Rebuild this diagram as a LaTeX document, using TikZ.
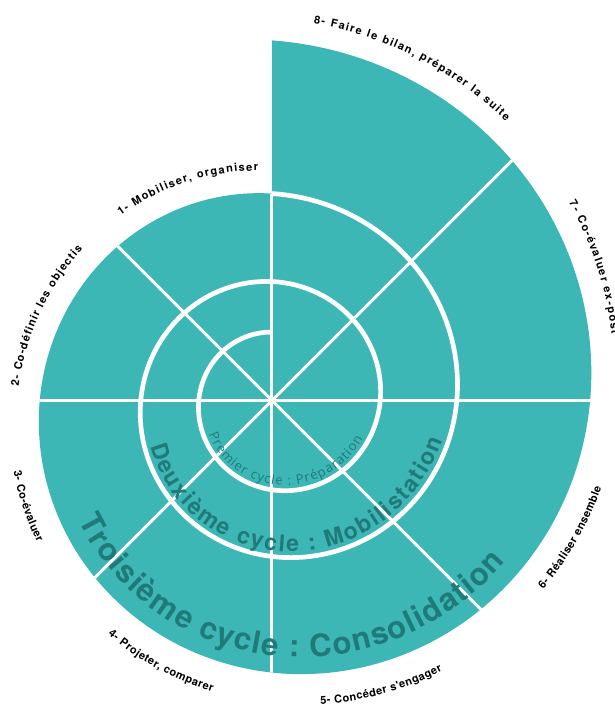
\documentclass[tikz,border=0pt]{standalone}
\usepackage{fontspec}
\usetikzlibrary{decorations.text}
\newfontfamily\labfont{TeX Gyre Heros}
\newfontfamily\bigfont{TeX Gyre Heros}
\newfontfamily\prefont{Open Sans}
\definecolor{tealfill}{HTML}{3DB6B6}
\definecolor{tealtext}{HTML}{217A7A}
\pgfmathdeclarefunction{spr}{1}{\pgfmathparse{68.1*exp(0.0015386*#1)}}
\tikzset{
  labtop/.style={decorate, decoration={text along path, text align=center,
    text={|\labfont\bfseries\fontsize{11}{13}\selectfont\kern1.35pt|#1}}},
  labtopb/.style={decorate, decoration={text along path, text align=center,
    text={|\labfont\bfseries\fontsize{11}{13}\selectfont\kern1.05pt|#1}}},
  labbot/.style={decorate, decoration={text along path, text align=center,
    text={|\labfont\bfseries\fontsize{11}{13}\selectfont\kern0.45pt|#1}}},
  spiralline/.style={draw=white, line width=4.7pt},
  radial/.style={draw=white, line width=3pt},
}
\begin{document}
\begin{tikzpicture}[x=1pt,y=1pt]
\useasboundingbox (-272,-304.5) rectangle (342,400.5);
% filled spiral region
\path[fill=tealfill] plot[domain=721.4:1080.8, samples=240] ({5+spr(\x)*cos(\x+90)}, {spr(\x)*sin(\x+90)}) -- cycle;
% radial lines
\begin{scope}
\clip plot[domain=721.4:1080.8, samples=240] ({5+spr(\x)*cos(\x+90)}, {spr(\x)*sin(\x+90)}) -- cycle;
\coordinate (c) at (0,0);
\foreach \a in {0,45,135,180,225,270,315} \draw[radial] (c) -- (\a:420);
\coordinate (top) at (0,207);
\draw[radial] (c) -- (top);
\end{scope}
% white spiral
\draw[spiralline] plot[domain=4.2:721.4, samples=400] ({5+spr(\x)*cos(\x+90)}, {spr(\x)*sin(\x+90)});
% big texts (on top of the lines)
\path[decorate, decoration={text along path, text align=center,
  text={|\color{tealtext}\bigfont\bfseries\fontsize{31}{34}\selectfont\kern1.4pt|Troisième cycle : Consolidation}}]
  plot[domain=832:962, samples=120] ({5+(spr(\x)-17)*cos(\x+90)}, {(spr(\x)-17)*sin(\x+90)});
\path[decorate, decoration={text along path, text align=center,
  text={|\color{tealtext}\bigfont\bfseries\fontsize{23}{26}\selectfont\kern1.9pt|Deuxième cycle : Mobilistation}}]
  plot[domain=462:622, samples=120] ({5+(spr(\x)-6)*cos(\x+90)}, {(spr(\x)-6)*sin(\x+90)});
\path[decorate, decoration={text along path, text align=center,
  text={|\color{tealtext}\prefont\fontsize{13}{15}\selectfont\kern1.1pt|Premier cycle : Préparation}}]
  plot[domain=108:252, samples=120] ({5+(spr(\x)-5.5)*cos(\x+90)}, {(spr(\x)-5.5)*sin(\x+90)});
% outer labels, clockwise (top)
\path[labtop={8- Faire le bilan, préparer la suite}] plot[domain=0:45, samples=60] ({5+(spr(1080-\x)+22.5)*cos(1170-\x)}, {(spr(1080-\x)+22.5)*sin(1170-\x)});
\path[labtop={7- Co-évaluer ex-post}] plot[domain=0:45, samples=60] ({5+(spr(1035-\x)+22.5)*cos(1125-\x)}, {(spr(1035-\x)+22.5)*sin(1125-\x)});
\path[labtop={1- Mobiliser, organiser}] plot[domain=0:45, samples=60] ({5+(spr(765-\x)+22.5)*cos(855-\x)}, {(spr(765-\x)+22.5)*sin(855-\x)});
\path[labtopb={2- Co-définir les objectis}] plot[domain=0:45, samples=60] ({5+(spr(812-\x)+22.5)*cos(902-\x)}, {(spr(812-\x)+22.5)*sin(902-\x)});
% outer labels, counterclockwise (bottom)
\path[labbot={3- Co-évaluer}] plot[domain=810:855, samples=60] ({5+(spr(\x)+30)*cos(\x+90)}, {(spr(\x)+30)*sin(\x+90)});
\path[labbot={4- Projeter, comparer}] plot[domain=853:898, samples=60] ({5+(spr(\x)+31)*cos(\x+90)}, {(spr(\x)+31)*sin(\x+90)});
\path[labbot={5- Concéder s'engager}] plot[domain=897:942, samples=60] ({5+(spr(\x)+31)*cos(\x+90)}, {(spr(\x)+31)*sin(\x+90)});
\path[labbot={6- Réaliser ensemble}] plot[domain=942:987, samples=60] ({5+(spr(\x)+30)*cos(\x+90)}, {(spr(\x)+30)*sin(\x+90)});
\end{tikzpicture}
\end{document}
